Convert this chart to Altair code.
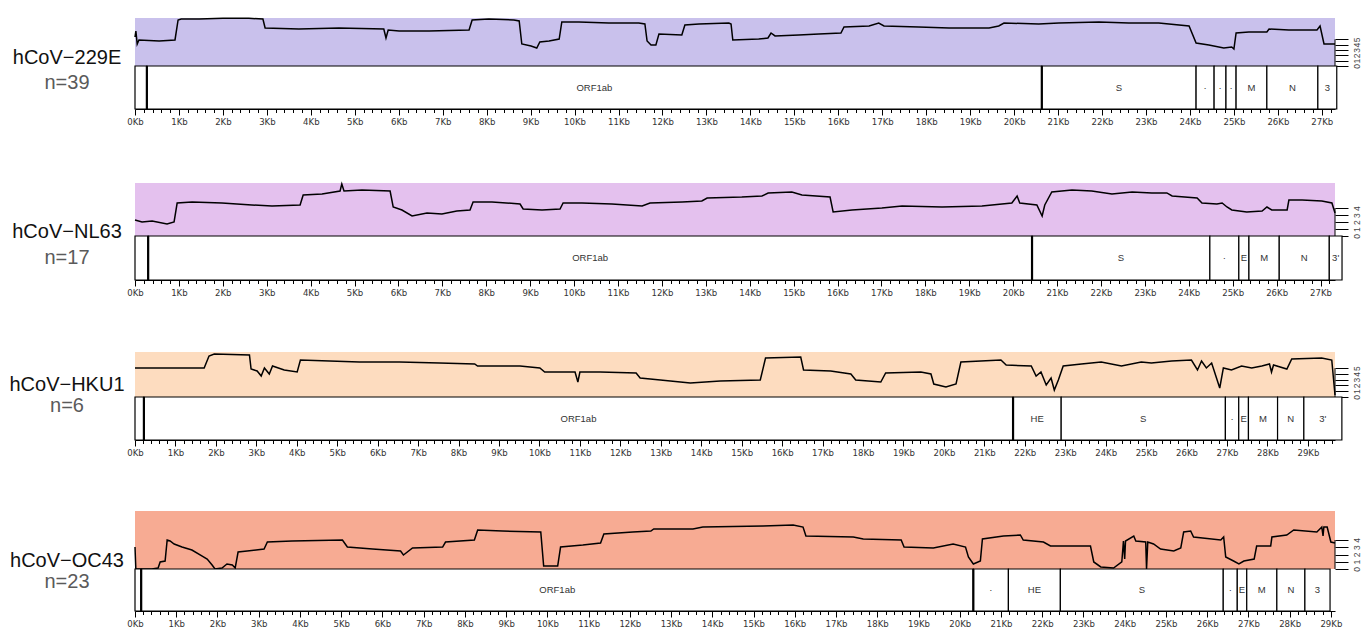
import altair as alt
import pandas as pd

FONT = "Liberation Sans, Arial, sans-serif"
NARROW = "Liberation Sans Narrow, DejaVu Sans Condensed, Liberation Sans, sans-serif"

# ---- virus panels ---------------------------------------------------------
NAMES = ["hCoV\u2212229E", "hCoV\u2212NL63", "hCoV\u2212HKU1", "hCoV\u2212OC43"]
COUNTS = ["n=39", "n=17", "n=6", "n=23"]
FILLS = ["#c9c1ec", "#e4c1ee", "#fddcbf", "#f7ab93"]
GENOME_KB = [27.30, 27.33, 29.67, 29.10]
TRACK_MAX = [9.0, 7.6, 7.8, 8.0]
TRACK_TICKS = [[0, 1, 2, 3, 4, 5], [0, 1, 2, 3, 4], [0, 1, 2, 3, 4, 5], [0, 1, 2, 3, 4]]

# panel geometry (pixels): coverage band height, gene row height, label offsets
BAND_PX = [48, 53, 45, 58]
GENE_PX = [43, 44, 43, 42]
NAME_DY = [-8, -4, -12, -8]
COUNT_DY = [17, 22, 9, 13]

# ---- coverage profiles (position in Kb, coverage level) --------------------
POS_229E = [0.00, 0.02, 0.05, 0.09, 0.55, 0.91, 0.98, 1.05, 1.46, 2.00, 2.59, 2.91, 2.96, 3.73,
            4.64, 5.66, 5.71, 5.76, 6.01, 6.69, 7.60, 7.67, 8.05, 8.62, 8.74, 8.80, 9.01, 9.14,
            9.21, 9.42, 9.65, 9.71, 10.10, 10.78, 11.46, 11.60, 11.65, 11.74, 11.85, 11.92,
            12.44, 12.51, 12.83, 13.51, 13.56, 13.60, 14.19, 14.40, 14.47, 14.56, 15.10, 15.56,
            16.06, 16.13, 16.70, 16.92, 17.04, 17.83, 18.52, 19.43, 19.65, 19.77, 20.56, 21.02,
            21.93, 22.61, 23.29, 23.98, 24.14, 24.43, 24.77, 24.95, 25.00, 25.05, 25.34, 25.75,
            25.80, 26.25, 26.89, 26.96, 27.05, 27.30]
VAL_229E = [5.44, 6.56, 4.13, 4.88, 4.69, 4.88, 8.63, 8.81, 8.81, 8.95, 8.95, 8.81, 7.13, 6.94,
            7.13, 6.94, 5.25, 6.75, 6.56, 6.56, 6.75, 8.63, 8.81, 8.63, 8.44, 4.13, 3.75, 3.38,
            4.50, 4.69, 5.06, 8.25, 8.25, 8.06, 8.06, 7.88, 4.69, 3.94, 3.94, 6.00,
            5.81, 7.69, 7.88, 8.06, 7.88, 4.88, 5.06, 5.25, 6.19, 5.63, 5.81, 6.00,
            6.19, 7.31, 7.50, 8.06, 7.50, 7.31, 7.13, 7.13, 7.50, 8.06, 7.88, 8.06,
            8.25, 8.06, 8.06, 7.50, 4.31, 3.94, 3.38, 3.56, 3.19, 6.19, 6.38, 6.38,
            6.94, 6.75, 6.75, 7.50, 4.13, 4.13]

POS_NL63 = [0.00, 0.16, 0.39, 0.73, 0.89, 0.96, 1.30, 1.98, 2.66, 3.12, 3.76, 3.83, 4.26, 4.67,
            4.71, 4.76, 5.17, 5.81, 5.88, 6.08, 6.31, 6.65, 6.99, 7.33, 7.63, 7.70, 8.13, 8.77,
            8.84, 9.27, 9.68, 9.75, 10.18, 10.86, 11.55, 11.73, 12.46, 12.91, 13.03, 13.82,
            14.28, 14.42, 14.96, 15.19, 15.83, 15.90, 16.33, 17.01, 17.47, 18.38, 19.29, 19.97,
            20.09, 20.15, 20.54, 20.66, 20.72, 20.88, 21.34, 21.79, 22.25, 22.71, 23.16, 23.50,
            23.62, 24.19, 24.30, 24.64, 24.76, 24.87, 24.98, 25.32, 25.67, 25.78, 25.89, 26.24,
            26.28, 26.58, 27.03, 27.26, 27.33]
VAL_NL63 = [2.29, 2.01, 2.15, 1.72, 2.01, 4.73, 4.88, 4.73, 4.45, 4.30, 4.45, 5.88, 6.02, 6.45,
            7.46, 6.45, 6.60, 6.45, 4.16, 3.73, 2.87, 3.30, 3.15, 3.58, 3.73, 4.88, 4.88, 4.59,
            3.87, 3.73, 3.87, 4.73, 4.73, 4.59, 4.30, 4.73, 4.88, 5.02, 5.45, 5.59,
            5.74, 6.17, 6.31, 5.88, 5.59, 3.44, 3.73, 4.01, 4.30, 4.16, 4.30, 4.73,
            5.74, 4.73, 4.45, 2.87, 4.45, 6.31, 6.60, 6.45, 6.02, 6.31, 6.17, 6.17,
            5.74, 5.45, 4.73, 4.59, 4.73, 4.16, 3.73, 3.44, 3.58, 4.16, 3.73, 3.73,
            5.16, 5.16, 5.02, 4.73, 3.30]

POS_HKU1 = [0.00, 0.84, 1.71, 1.83, 1.96, 2.83, 2.87, 3.02, 3.12, 3.20, 3.32, 3.40, 3.69, 4.01,
            4.09, 4.81, 5.55, 6.54, 7.53, 8.40, 8.47, 9.52, 10.01, 10.13, 10.88, 10.95, 11.00,
            11.50, 12.39, 12.49, 12.99, 13.73, 14.47, 15.46, 15.59, 16.46, 16.53, 17.20, 17.70,
            17.82, 18.44, 18.56, 19.43, 19.68, 19.75, 20.05, 20.30, 20.42, 21.41, 21.54, 22.16,
            22.28, 22.40, 22.53, 22.65, 22.73, 22.83, 22.95, 23.40, 23.89, 24.39, 24.88, 25.13,
            25.63, 26.12, 26.27, 26.37, 26.49, 26.62, 26.74, 26.82, 26.91, 27.11, 27.36, 27.61,
            27.86, 28.05, 28.10, 28.15, 28.48, 28.60, 29.34, 29.59, 29.67]
VAL_HKU1 = [5.03, 5.03, 5.03, 7.11, 7.45, 7.28, 4.85, 4.51, 3.64, 5.03,
            3.99, 5.37, 4.68, 4.33, 6.41, 6.24, 6.07, 6.07, 5.89, 5.72,
            5.37, 5.37, 5.03, 4.33, 4.33, 2.60, 4.33, 4.33, 4.16, 3.29,
            2.95, 2.43, 2.77, 2.95, 6.76, 6.93, 4.68, 4.51, 3.99, 2.95,
            2.60, 4.16, 4.33, 3.99, 2.25, 1.73, 2.25, 6.07, 6.41, 5.55,
            5.37, 3.64, 4.33, 2.08, 3.29, 1.21, 2.95, 5.37, 5.72, 6.07,
            5.37, 6.07, 5.89, 6.24, 6.41, 4.68, 6.24, 5.03, 5.89, 3.29,
            1.56, 5.03, 4.68, 5.37, 5.03, 5.37, 5.72, 4.33, 5.55, 4.85,
            6.59, 6.76, 6.41, 0.35]

POS_OC43 = [0.00, 0.02, 0.41, 0.56, 0.61, 0.73, 0.78, 0.85, 0.95, 1.14, 1.38, 1.63, 1.75, 1.87,
            1.94, 2.11, 2.23, 2.36, 2.43, 2.50, 2.72, 3.13, 3.21, 3.81, 5.03, 5.15, 5.76, 6.44,
            6.51, 6.73, 7.46, 7.53, 8.23, 8.31, 8.91, 9.84, 9.91, 10.25, 10.32, 10.86, 11.29,
            11.37, 12.07, 12.51, 12.58, 13.53, 13.77, 15.23, 15.96, 16.20, 16.27, 17.42, 17.66,
            18.58, 18.65, 19.36, 19.84, 20.14, 20.21, 20.33, 20.50, 20.55, 21.06, 21.47, 21.54,
            22.03, 22.20, 23.17, 23.25, 23.42, 23.73, 23.93, 23.97, 24.00, 24.02, 24.22, 24.27,
            24.51, 24.53, 24.56, 24.70, 24.87, 25.19, 25.36, 25.43, 25.60, 25.67, 26.33, 26.40,
            26.45, 26.64, 26.77, 26.89, 27.14, 27.20, 27.54, 27.57, 27.93, 28.10, 28.66, 28.78,
            28.81, 28.83, 28.91, 29.00, 29.10]
VAL_OC43 = [3.03, 0.00, 0.00, 0.14, 0.97, 1.10, 4.00, 3.86, 3.45, 3.03, 2.62, 1.79, 1.38, 0.55,
            0.00, 0.14, 0.69, 0.55, 0.14, 2.34, 2.48, 2.76, 3.72, 3.86, 4.00, 3.03, 2.76, 2.48,
            1.93, 2.90, 3.03, 3.72, 4.00, 5.38, 5.24, 5.10, 0.41, 0.41, 3.03, 3.31, 3.59,
            4.83, 5.10, 5.24, 5.52, 5.52, 5.79, 5.93, 6.07, 5.79, 4.55, 4.41, 4.14,
            4.00, 3.03, 2.90, 3.45, 3.03, 1.66, 0.69, 1.10, 4.14, 4.55, 4.69, 4.00,
            3.72, 3.17, 3.17, 0.97, 0.28, 0.14, 0.97, 3.86, 1.38, 3.86, 4.55, 3.86,
            3.72, 0.00, 3.72, 3.45, 2.76, 2.48, 2.90, 5.10, 5.24, 4.41, 4.00, 4.41,
            1.66, 1.10, 0.69, 1.10, 1.38, 3.17, 3.17, 4.41, 4.69, 5.38, 5.10, 5.79,
            4.55, 5.79, 5.79, 3.72, 3.59]

# ---- gene annotation (name, start Kb, end Kb) ------------------------------
GENES_229E = ["", "ORF1ab", "S", "\u00b7", "\u00b7", "\u00b7", "M", "N", "3"]
START_229E = [0.00, 0.27, 20.63, 24.14, 24.55, 24.82, 25.05, 25.75, 26.91]
END_229E = [0.27, 20.63, 24.14, 24.55, 24.82, 25.05, 25.75, 26.91, 27.34]

GENES_NL63 = ["", "ORF1ab", "S", "\u00b7", "E", "M", "N", "3'"]
START_NL63 = [0.00, 0.30, 20.43, 24.48, 25.14, 25.37, 26.06, 27.20]
END_NL63 = [0.30, 20.43, 24.48, 25.14, 25.37, 26.06, 27.20, 27.49]

GENES_HKU1 = ["", "ORF1ab", "HE", "S", "\u00b7", "E", "M", "N", "3'"]
START_HKU1 = [0.00, 0.22, 21.71, 22.90, 26.96, 27.29, 27.53, 28.25, 28.90]
END_HKU1 = [0.22, 21.71, 22.90, 26.96, 27.29, 27.53, 28.25, 28.90, 29.84]

GENES_OC43 = ["", "ORF1ab", "\u00b7", "HE", "S", "\u00b7", "E", "M", "N", "3"]
START_OC43 = [0.00, 0.15, 20.33, 21.18, 22.44, 26.39, 26.73, 26.96, 27.69, 28.37]
END_OC43 = [0.15, 20.33, 21.18, 22.44, 26.39, 26.73, 26.96, 27.69, 28.37, 28.98]

PROFILES = [(POS_229E, VAL_229E), (POS_NL63, VAL_NL63), (POS_HKU1, VAL_HKU1), (POS_OC43, VAL_OC43)]
ANNOT = [(GENES_229E, START_229E, END_229E), (GENES_NL63, START_NL63, END_NL63),
         (GENES_HKU1, START_HKU1, END_HKU1), (GENES_OC43, START_OC43, END_OC43)]

WIDTH = 1200
MAJOR = "abs(datum.value - round(datum.value)) < 0.001"


def panel(i):
    end = GENOME_KB[i]
    pos, val = PROFILES[i]
    names, starts, ends = ANNOT[i]

    xs = alt.Scale(domain=[0, end], nice=False, zero=False)
    ys = alt.Scale(domain=[0, TRACK_MAX[i]], nice=False, zero=False)
    yax = alt.Axis(orient="right", values=TRACK_TICKS[i], tickSize=13, tickColor="black",
                   tickWidth=1, domain=False, grid=False, labelAngle=270, labelFontSize=8.5,
                   labelColor="#444444", labelPadding=4, labelFont=FONT, title=None)

    # coverage band
    bg = alt.Chart(pd.DataFrame({"a": [0.0], "b": [end], "lo": [0.0], "hi": [TRACK_MAX[i]]})).mark_rect(
        color=FILLS[i]).encode(
        x=alt.X("a:Q", scale=xs, axis=None), x2="b:Q",
        y=alt.Y("lo:Q", scale=ys, axis=yax), y2="hi:Q")
    prof = pd.DataFrame({"pos": pos, "val": val, "idx": range(len(pos))})
    line = alt.Chart(prof).mark_line(color="black", strokeWidth=1.5).encode(
        x=alt.X("pos:Q", scale=xs, axis=None),
        y=alt.Y("val:Q", scale=ys, axis=yax),
        order="idx:Q")
    spine = alt.Chart(pd.DataFrame({"e": [end], "lo": [0.0], "top": [max(TRACK_TICKS[i])]})).mark_rule(
        color="black", strokeWidth=1).encode(
        x=alt.X("e:Q", scale=xs, axis=None),
        y=alt.Y("lo:Q", scale=ys, axis=yax), y2="top:Q")
    band = alt.layer(bg, line, spine).properties(width=WIDTH, height=BAND_PX[i])

    # gene row with genome axis
    ticks = [k / 5 for k in range(int(end * 5) + 1)]
    xax = alt.Axis(values=ticks, labelExpr=MAJOR + " ? round(datum.value) + 'Kb' : ''",
                   tickSize={"condition": {"test": MAJOR, "value": 6}, "value": 3.5},
                   tickColor="black", tickWidth=1, domainColor="black", domainWidth=1,
                   labelFontSize=9.5, labelColor="#333333", labelFont=NARROW, labelPadding=1,
                   labelFlush=False, labelOverlap=False, grid=False, title=None)
    h = GENE_PX[i]
    gdf = pd.DataFrame({"name": names, "start": starts, "end": ends})
    gdf["mid"] = (gdf["start"] + gdf["end"]) / 2
    boxes = alt.Chart(gdf).mark_rect(fill="white", stroke="black", strokeWidth=1.2).encode(
        x=alt.X("start:Q", scale=xs, axis=xax), x2="end:Q",
        y=alt.value(0), y2=alt.value(h))
    edges = alt.Chart(pd.DataFrame({"b": [starts[1], ends[1]]})).mark_rule(
        color="black", strokeWidth=2.2).encode(
        x=alt.X("b:Q", scale=xs, axis=xax), y=alt.value(0), y2=alt.value(h))
    labels = alt.Chart(gdf).mark_text(fontSize=9.5, color="#333333", font=FONT).encode(
        x=alt.X("mid:Q", scale=xs, axis=xax), y=alt.value(h / 2), text="name:N")
    name = alt.Chart(pd.DataFrame({"t": [NAMES[i]]})).mark_text(
        fontSize=20, font=FONT, color="#111111", align="center", baseline="middle").encode(
        x=alt.value(-68), y=alt.value(NAME_DY[i]), text="t:N")
    count = alt.Chart(pd.DataFrame({"t": [COUNTS[i]]})).mark_text(
        fontSize=20, font=FONT, color="#5a5a5a", align="center", baseline="middle").encode(
        x=alt.value(-68), y=alt.value(COUNT_DY[i]), text="t:N")
    genes = alt.layer(boxes, edges, labels, name, count).properties(width=WIDTH, height=h)

    return alt.vconcat(band, genes, spacing=0, bounds="flush").resolve_scale(
        x="independent", y="independent")


chart = alt.vconcat(*[panel(i) for i in range(4)], spacing=54, bounds="full").resolve_scale(
    x="independent", y="independent").configure_view(strokeWidth=0).properties(
    padding={"left": 9, "top": 15, "right": 0, "bottom": 0})

chart.save("out.html", embed_options={"renderer": "svg", "actions": False})
